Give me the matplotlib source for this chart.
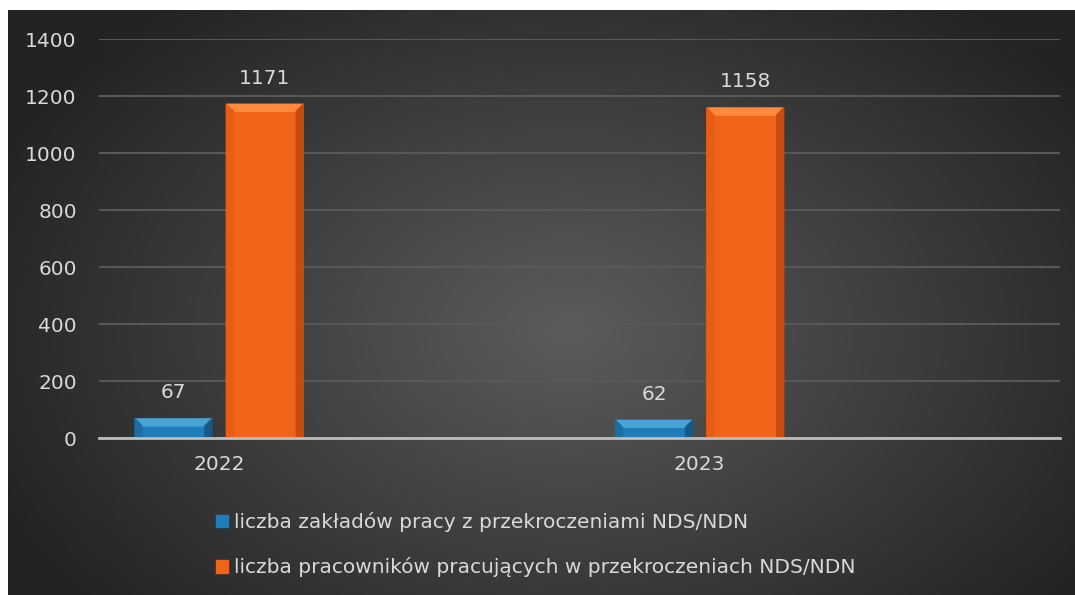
import numpy as np
import matplotlib
matplotlib.use('Agg')
import matplotlib.pyplot as plt
from matplotlib.patches import Polygon, Rectangle
from matplotlib.transforms import IdentityTransform

years = ['2022', '2023']
zaklady = [67, 62]
pracownicy = [1171, 1158]
labels = ['liczba zakładów pracy z przekroczeniami NDS/NDN',
          'liczba pracowników pracujących w przekroczeniach NDS/NDN']

plt.rcParams['font.family'] = ['DejaVu Sans']
txt = '#d9d9d9'
fs = 14.5

fig = plt.figure(figsize=(10.75, 5.95), dpi=100)
fig.patch.set_facecolor('white')

# radial gradient background
bg = fig.add_axes([8/1075, 0, 1 - 8/1075, 1 - 10/595])
yy, xx = np.mgrid[0:585, 0:1067]
r = np.sqrt(((xx - 560) / 620.0) ** 2 + ((yy - 320) / 420.0) ** 2)
shade = np.clip(0.36 - 0.22 * r, 0.14, 0.36)
bg.imshow(np.dstack([shade] * 3), aspect='auto', extent=[0, 1, 0, 1])
bg.set_axis_off()

ax = fig.add_axes([99/1075, 1 - 438/595, (1060 - 99)/1075, (438 - 39)/595])
ax.patch.set_alpha(0)

x = np.array([0, 2])
w = 0.32
b1 = ax.bar(x - 0.19, zaklady, w, color='#1f7db8', zorder=3)
b2 = ax.bar(x + 0.19, pracownicy, w, color='#f0641a', zorder=3)

ax.set_xlim(-0.5, 3.5)
ax.set_ylim(0, 1400)
ax.set_yticks(range(0, 1401, 200))
ax.set_xticks(x)
ax.set_xticklabels(years)
ax.tick_params(colors=txt, labelsize=fs, length=0)
ax.tick_params(axis='y', pad=16)
ax.tick_params(axis='x', pad=12)
ax.yaxis.grid(True, color='#585858', lw=1.5, zorder=0)
ax.set_axisbelow(True)
for s in ['top', 'right', 'left']:
    ax.spines[s].set_visible(False)
ax.spines['bottom'].set_color('#bdbdbd')
ax.spines['bottom'].set_linewidth(2)
ax.spines['bottom'].set_zorder(5)

fig.canvas.draw()

# bevel look on bars
def bevel(bars, light, dark, top):
    for p in bars:
        x0, y0 = ax.transData.transform((p.get_x(), 0))
        x1, y1 = ax.transData.transform((p.get_x() + p.get_width(), p.get_height()))
        d = 7
        ax.add_patch(Polygon([(x0, y1), (x1, y1), (x1 - d, y1 - d), (x0 + d, y1 - d)],
                             closed=True, color=top, transform=IdentityTransform(), zorder=4))
        ax.add_patch(Polygon([(x0, y0), (x0, y1), (x0 + d, y1 - d), (x0 + d, y0)],
                             closed=True, color=light, transform=IdentityTransform(), zorder=4))
        ax.add_patch(Polygon([(x1, y0), (x1, y1), (x1 - d, y1 - d), (x1 - d, y0)],
                             closed=True, color=dark, transform=IdentityTransform(), zorder=4))

bevel(b1, '#1a6ea3', '#155a86', '#4aa3d6')
bevel(b2, '#e85d15', '#c94c0c', '#ff8a3d')

for bars, vals in [(b1, zaklady), (b2, pracownicy)]:
    for p, v in zip(bars, vals):
        ax.annotate(str(v), (p.get_x() + p.get_width() / 2, v), xytext=(0, 12),
                    textcoords='offset points', ha='center', va='bottom',
                    color=txt, fontsize=fs)

handles = [Rectangle((0, 0), 1, 1, color='#1f7db8'), Rectangle((0, 0), 1, 1, color='#f0641a')]
fig.legend(handles, labels, loc='upper left', bbox_to_anchor=(198/1075, 1 - 494/595),
           frameon=False, fontsize=fs, labelcolor=txt, handlelength=0.6, handleheight=0.6,
           handletextpad=0.3, labelspacing=1.25)

fig.savefig('out.png', dpi=100)
